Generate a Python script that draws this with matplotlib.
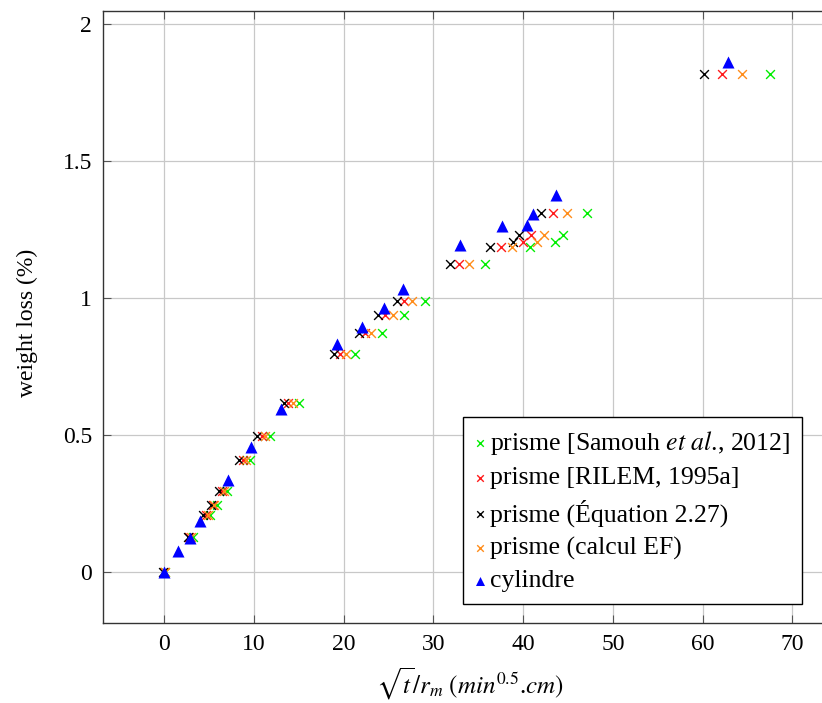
import matplotlib.pyplot as plt

plt.rcParams['font.family'] = ['Liberation Serif', 'DejaVu Serif']
plt.rcParams['mathtext.fontset'] = 'stix'

# weight loss (%) rows shared by the four prism series
prism_loss = [0.0, 0.128, 0.208, 0.243, 0.294, 0.407, 0.497, 0.617, 0.797,
              0.872, 0.939, 0.988, 1.124, 1.186, 1.204, 1.231, 1.31, 1.816]

# sqrt(t)/r_m for each prism series
x_samouh = [0.1, 3.16, 5.1, 5.84, 7.0, 9.5, 11.8, 15.0, 21.26,
            24.3, 26.76, 29.06, 35.75, 40.77, 43.56, 44.4, 47.09, 67.53]
x_rilem = [0.0, 2.8, 4.6, 5.4, 6.43, 8.74, 10.85, 13.8, 19.59,
           22.37, 24.6, 26.76, 32.85, 37.5, 40.0, 40.85, 43.37, 62.14]
x_equation = [-0.1, 2.6, 4.35, 5.17, 6.13, 8.37, 10.37, 13.35, 18.95,
              21.7, 23.86, 25.9, 31.85, 36.3, 38.84, 39.58, 41.96, 60.17]
x_calcul = [0.05, 2.94, 4.83, 5.54, 6.66, 9.1, 11.2, 14.3, 20.26,
            23.04, 25.53, 27.65, 33.95, 38.8, 41.5, 42.3, 44.86, 64.37]

# cylinder
x_cyl = [0.0, 1.56, 2.87, 3.98, 7.07, 9.67, 13.0, 19.22, 22.07,
         24.49, 26.65, 32.97, 37.68, 40.4, 41.14, 43.63, 62.88]
y_cyl = [0.0, 0.075, 0.124, 0.185, 0.334, 0.455, 0.595, 0.832, 0.894,
         0.963, 1.034, 1.195, 1.264, 1.265, 1.306, 1.374, 1.861]

labels = ['prisme [Samouh $\\mathit{et\\ al}$., 2012]',
          'prisme [RILEM, 1995a]',
          'prisme (Équation 2.27)',
          'prisme (calcul EF)',
          'cylindre']

fig = plt.figure(figsize=(8.22, 7.03), dpi=100)
ax = fig.add_axes([103.3 / 822, 80.3 / 703, 733.8 / 822, 611.5 / 703])

mk = dict(marker='x', s=40, linewidths=1.0, zorder=3)
ax.scatter(x_samouh, prism_loss, color='#00ee00', label=labels[0], **mk)
ax.scatter(x_rilem, prism_loss, color='#ff1a1a', label=labels[1], **mk)
ax.scatter(x_equation, prism_loss, color='black', label=labels[2], **mk)
ax.scatter(x_calcul, prism_loss, color='#ff8c1a', label=labels[3], **mk)
ax.scatter(x_cyl, y_cyl, color='#0000ff', marker='^', s=75, linewidths=0,
           label=labels[4], zorder=4)

ax.set_xlim(-6.8, 75)
ax.set_ylim(-0.186, 2.047)
ax.set_xticks([0, 10, 20, 30, 40, 50, 60, 70])
ax.set_yticks([0, 0.5, 1, 1.5, 2])
ax.set_yticklabels(['0', '0.5', '1', '1.5', '2'])
ax.grid(True, color='#c8c8c8', linewidth=0.9)
ax.set_axisbelow(True)
ax.tick_params(direction='in', length=6, width=0.8, color='#555555',
               top=True, right=True, labelsize=17, pad=8)
for sp in ax.spines.values():
    sp.set_color('#333333')
    sp.set_linewidth(1.0)

ax.set_xlabel('$\\sqrt{t}/r_m\\ (min^{0.5}$.$cm)$', fontsize=18, labelpad=8)
ax.set_ylabel('weight loss (%)', fontsize=17)
ax.yaxis.set_label_coords(-0.089, 0.49)

leg = ax.legend(loc='lower left', bbox_to_anchor=(463 / 822, 1 - 604 / 703),
                bbox_transform=fig.transFigure, fontsize=18.5, fancybox=False,
                edgecolor='black', framealpha=1, handletextpad=0.15,
                handlelength=0.45, borderpad=0.45, labelspacing=0.38,
                markerscale=0.75, borderaxespad=0)
leg.get_frame().set_linewidth(1.0)

fig.savefig('out.png', dpi=100)
